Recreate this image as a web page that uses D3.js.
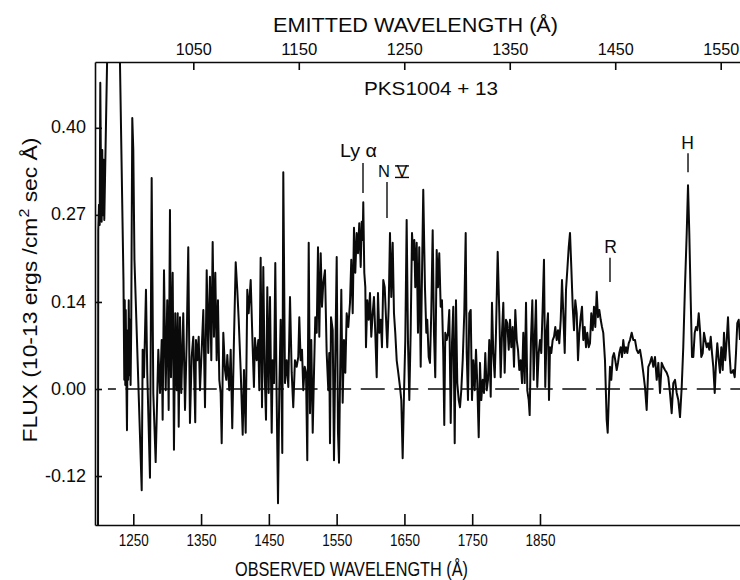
<!DOCTYPE html>
<html><head><meta charset="utf-8">
<script src="https://cdn.jsdelivr.net/npm/d3@7"></script>
<style>html,body{margin:0;padding:0;background:#fff;} svg{display:block;}</style>
</head><body>
<svg id="chart" width="740" height="580"></svg>
<script>
// ---------------- data ----------------
const wavelength = [
1197.9,1198.3,1199.4,1200.4,1201.3,1202.3,1203.3,1204.2,1205.3,1206.3,
1207.2,1211.9,1220.0,1229.8,1235.5,1236.7,1237.4,1238.2,1238.9,1239.6,
1240.7,1241.6,1242.4,1243.3,1244.2,1245.1,1246.0,1246.9,1248.5,1250.0,
1251.7,1262.4,1263.8,1265.8,1268.7,1270.6,1274.6,1277.1,1279.5,1283.0,
1286.9,1289.4,1291.9,1293.3,1295.3,1297.8,1300.1,1302.2,1304.1,1305.6,
1308.1,1310.0,1311.9,1314.0,1315.5,1317.0,1318.9,1320.8,1323.7,1326.3,
1328.8,1331.1,1333.6,1336.1,1338.5,1341.4,1342.5,1344.4,1346.5,1348.4,
1350.9,1353.3,1355.8,1358.3,1360.6,1363.1,1365.1,1367.1,1369.0,1371.0,
1373.0,1374.9,1376.9,1378.9,1380.4,1382.8,1385.3,1387.2,1388.7,1391.6,
1393.7,1396.0,1398.5,1401.1,1403.4,1405.5,1408.4,1411.4,1413.3,1415.8,
1418.2,1420.2,1423.2,1426.1,1428.0,1429.5,1432.0,1434.4,1435.9,1437.9,
1439.9,1441.8,1443.8,1445.8,1447.7,1449.7,1451.7,1454.2,1455.6,1457.6,
1459.5,1461.5,1463.5,1465.4,1467.4,1469.8,1471.3,1473.8,1476.3,1478.7,
1481.2,1483.7,1486.0,1488.5,1491.0,1493.4,1494.9,1496.9,1498.9,1500.8,
1502.9,1504.8,1506.7,1508.8,1510.7,1512.6,1514.7,1516.6,1518.5,1520.6,
1522.5,1524.4,1526.5,1528.4,1530.3,1532.8,1535.3,1537.7,1539.1,1540.2,
1541.7,1544.2,1546.1,1548.0,1550.1,1552.0,1553.5,1554.9,1556.9,1558.9,
1560.8,1562.8,1564.8,1567.2,1569.7,1571.6,1573.7,1575.6,1577.5,1579.6,
1581.5,1583.4,1585.5,1587.0,1588.4,1589.3,1590.8,1592.3,1593.3,1595.2,
1597.3,1599.2,1601.1,1603.2,1605.1,1607.0,1609.1,1611.0,1612.9,1615.0,
1616.9,1618.8,1620.9,1622.8,1624.7,1626.8,1628.7,1630.6,1632.7,1634.6,
1636.5,1638.6,1640.9,1643.5,1645.4,1647.4,1649.4,1651.3,1653.3,1655.3,
1657.2,1659.2,1661.2,1663.1,1664.6,1666.0,1668.1,1670.0,1671.9,1674.0,
1675.9,1677.8,1680.3,1682.3,1683.7,1685.8,1687.7,1689.6,1691.7,1693.6,
1695.5,1697.6,1699.5,1701.4,1703.5,1705.4,1707.3,1708.8,1710.3,1712.4,
1714.3,1716.2,1718.3,1720.2,1722.1,1724.2,1726.1,1728.0,1730.1,1732.0,
1733.9,1736.0,1738.3,1740.4,1741.9,1743.8,1745.7,1747.8,1749.7,1751.6,
1753.7,1755.6,1757.5,1759.6,1761.5,1763.4,1765.5,1767.4,1769.3,1771.4,
1773.3,1775.2,1777.3,1779.2,1781.1,1783.2,1785.1,1787.6,1790.0,1792.0,
1794.0,1795.9,1797.9,1799.9,1801.8,1803.9,1805.8,1807.7,1809.7,1811.7,
1813.6,1815.7,1817.6,1819.5,1821.5,1823.5,1825.4,1827.4,1829.4,1831.3,
1833.4,1834.8,1836.7,1838.7,1840.7,1842.6,1844.1,1846.0,1848.1,1850.0,
1851.9,1854.0,1855.9,1857.8,1859.9,1861.8,1863.3,1864.8,1866.7,1868.7,
1870.7,1872.6,1874.7,1876.6,1878.5,1880.6,1882.5,1884.4,1886.5,1888.4,
1890.3,1892.4,1894.3,1896.2,1898.3,1900.2,1902.1,1904.2,1906.1,1908.0,
1910.1,1912.0,1913.9,1916.0,1917.9,1919.8,1921.9,1923.8,1925.7,1927.8,
1929.7,1931.6,1933.7,1935.6,1937.5,1939.6,1941.5,1943.4,1945.9,1948.4,
1949.9,1951.8,1953.3,1955.2,1957.3,1959.2,1961.1,1963.2,1965.1,1967.0,
1969.1,1971.0,1972.9,1975.0,1976.9,1978.8,1980.9,1982.8,1985.3,1987.7,
1990.2,1992.7,1995.0,1997.6,2000.1,2002.4,2004.9,2007.4,2009.8,2012.3,
2014.8,2017.2,2019.7,2022.2,2024.6,2027.1,2029.6,2031.9,2034.4,2036.9,
2039.3,2041.8,2044.3,2046.7,2049.2,2051.7,2054.1,2056.6,2059.1,2061.4,
2063.9,2066.5,2068.4,2070.3,2072.4,2074.3,2076.2,2078.3,2080.2,2082.1,
2084.2,2086.1,2088.0,2090.1,2092.0,2093.9,2096.0,2097.9,2099.8,2101.9,
2103.8,2105.7,2107.8,2109.7,2111.6,2113.7,2115.6,2117.5,2119.6,2121.5,
2123.4,2125.5,2127.4,2129.3,2131.4,2133.3,2135.2,2137.3,2139.2,2141.1,
2143.2,2145.1
];
const flux = [
-0.300,0.243,0.282,0.251,0.469,0.335,0.256,0.366,0.266,0.351,
0.259,0.534,0.800,0.534,0.167,0.014,0.136,0.006,0.121,0.029,
-0.063,0.090,0.014,0.136,0.021,0.106,0.006,0.090,0.415,0.366,
0.198,-0.155,0.060,0.018,0.152,0.025,-0.136,0.323,-0.006,-0.112,
0.060,-0.006,0.075,-0.047,0.182,-0.002,0.136,-0.032,0.274,0.018,
0.178,-0.093,0.116,-0.002,0.116,-0.058,0.110,-0.006,0.116,-0.032,
0.075,0.217,-0.052,0.049,0.080,-0.051,0.075,0.044,0.080,-0.002,
0.060,0.121,-0.028,0.182,0.055,0.172,0.044,0.225,0.080,0.178,
0.044,0.136,0.014,-0.006,-0.083,0.086,0.029,0.014,0.052,-0.002,
0.060,-0.060,0.075,0.194,0.152,0.106,0.029,-0.070,0.029,-0.067,
0.152,0.116,0.167,0.064,0.003,0.078,0.044,0.075,-0.002,0.201,
-0.028,0.187,0.025,-0.047,0.156,-0.006,0.141,-0.067,0.044,0.009,
0.193,-0.012,-0.175,-0.002,0.106,-0.098,0.332,0.009,0.044,0.003,
0.141,0.025,-0.028,0.044,0.034,0.049,0.110,0.044,0.060,-0.002,
0.034,0.025,-0.109,0.224,-0.037,0.075,-0.067,0.025,0.110,0.086,
0.217,0.080,0.208,0.126,0.162,0.182,0.055,-0.002,0.055,-0.083,
0.110,0.090,-0.109,0.049,0.202,-0.067,-0.113,0.003,0.152,-0.021,
0.075,0.025,0.116,0.095,0.132,0.198,0.116,0.247,0.178,0.239,
0.208,0.254,0.187,0.256,0.228,0.286,0.178,0.156,0.064,0.136,
0.106,0.147,0.080,0.116,0.141,0.086,0.018,0.147,0.086,0.106,
0.064,0.167,0.156,0.110,0.064,0.126,0.239,0.141,0.224,0.116,
0.086,0.044,0.025,0.003,-0.017,-0.106,-0.006,0.075,0.259,0.070,
-0.017,0.086,0.239,0.198,0.228,0.156,0.224,0.086,0.217,0.034,
0.172,0.305,0.156,0.086,0.106,0.049,0.040,0.116,0.243,0.086,
0.018,0.213,0.156,0.208,0.126,0.136,0.055,-0.055,0.086,0.075,
0.086,0.121,-0.052,0.070,0.126,-0.083,0.136,0.009,-0.017,-0.028,
-0.002,0.044,0.116,0.239,0.055,-0.017,0.116,0.121,-0.017,0.044,
-0.002,0.060,0.009,-0.074,0.040,-0.017,0.014,-0.006,0.055,-0.002,
0.014,0.075,-0.012,0.132,0.055,0.018,0.086,0.210,0.116,0.018,
0.086,0.132,0.025,0.106,0.101,0.060,0.106,0.064,0.095,0.034,
0.121,0.075,0.060,0.029,0.044,0.009,0.086,0.009,0.132,-0.002,
-0.017,-0.040,0.075,0.136,0.014,0.086,0.136,0.003,0.055,0.075,
0.055,0.126,0.198,0.003,0.090,0.116,-0.017,0.064,0.055,0.075,
0.080,0.095,0.075,0.090,0.070,0.106,0.167,0.116,0.055,0.152,
0.182,0.217,0.239,0.187,0.126,0.090,0.136,0.116,0.044,0.086,
0.110,0.126,0.075,0.095,0.064,0.086,0.064,0.070,0.116,0.090,
0.126,0.095,0.149,0.110,0.121,0.106,0.095,0.086,0.044,-0.047,
-0.067,-0.006,0.034,0.014,0.049,0.055,0.044,0.029,0.040,0.055,
0.064,0.049,0.075,0.055,0.064,0.055,0.070,0.075,0.086,0.075,
0.075,0.060,0.055,0.060,0.044,0.025,0.003,-0.032,0.034,0.040,
0.049,0.034,0.049,0.014,0.040,-0.006,0.040,0.034,0.029,0.025,
0.018,-0.006,-0.037,0.009,0.014,-0.006,-0.017,-0.043,0.003,0.064,
0.156,0.239,0.312,0.239,0.136,0.049,0.049,0.086,0.095,0.090,
0.116,0.090,0.049,0.055,0.086,0.075,0.064,0.070,0.060,0.080,
0.055,0.034,-0.006,0.040,0.070,0.044,0.025,0.064,0.029,0.086,
0.044,0.075,0.110,0.060,0.025,0.025,0.029,0.018,0.055,0.101,
0.106,0.075
];
const observedTicks = [1250,1350,1450,1550,1650,1750,1850];
const emittedTicks = [1050,1150,1250,1350,1450,1550];
const fluxTicks = [0.40, 0.2667, 0.1333, 0.00, -0.1333];
const fluxTickLabels = ["0.40","0.27","0.14","0.00","-0.12"];
const featureNames = ["Ly α","N V","R","H"];
const featureWavelengths = [1588.9,1624.3,1953.3,2068.4];

// ---------------- layout / style ----------------
const FONT = "'Liberation Sans', Arial, sans-serif";
const INK = "#0a0a0a";
const m = {left:95, top:62, right:740, bottom:525};
const svg = d3.select("#chart");
const x = d3.scaleLinear().domain([1193.5,2145.1]).range([m.left,m.right]);
const xTop = d3.scaleLinear().domain([956.8,1568.3]).range([m.left,m.right]);
const y = d3.scaleLinear().domain([-0.2083,0.5008]).range([m.bottom,m.top]);

svg.append("defs").append("clipPath").attr("id","plotClip")
  .append("rect").attr("x",m.left).attr("y",m.top)
  .attr("width",m.right-m.left+2).attr("height",m.bottom-m.top);

// zero line (dashed)
svg.append("line")
  .attr("x1",x(1212.6)).attr("x2",x(2145.1))
  .attr("y1",y(0)).attr("y2",y(0))
  .attr("stroke",INK).attr("stroke-width",1.6)
  .attr("stroke-dasharray","24 9.6").attr("stroke-dashoffset",16);

// spectrum
const pts = wavelength.map((w,i)=>[w,flux[i]]);
svg.append("path")
  .attr("clip-path","url(#plotClip)")
  .attr("d", d3.line().x(d=>x(d[0])).y(d=>y(d[1]))(pts))
  .attr("fill","none").attr("stroke",INK)
  .attr("stroke-width",2).attr("stroke-linejoin","round");

// axes
function styleAxis(g, size){
  g.attr("font-family",FONT).attr("font-size",size);
  g.selectAll("path,line").attr("stroke",INK).attr("stroke-width",1.6);
  g.selectAll("text").attr("fill",INK).attr("font-size",size);
}
const gB = svg.append("g").attr("transform",`translate(0,${m.bottom})`)
  .call(d3.axisBottom(x).tickValues(observedTicks).tickSize(-11).tickSizeOuter(0).tickFormat(d3.format("d")));
styleAxis(gB, 17);
gB.selectAll("text").attr("y",21).attr("dy",0)
  .attr("textLength",30).attr("lengthAdjust","spacingAndGlyphs");

const gT = svg.append("g").attr("transform",`translate(0,${m.top})`)
  .call(d3.axisTop(xTop).tickValues(emittedTicks).tickSize(-8).tickSizeOuter(0).tickFormat(d3.format("d")));
styleAxis(gT, 17);
gT.selectAll("text").attr("y",-7).attr("dy",0)
  .attr("textLength",36).attr("lengthAdjust","spacingAndGlyphs");

const gL = svg.append("g").attr("transform",`translate(${m.left},0)`)
  .call(d3.axisLeft(y).tickValues(fluxTicks).tickSize(-7).tickSizeOuter(0)
    .tickFormat((d,i)=>fluxTickLabels[i]));
styleAxis(gL, 18);
gL.selectAll("text").attr("x",-9).attr("dy","0.28em");

// titles
svg.append("text").attr("x",415.5).attr("y",32).attr("text-anchor","middle")
  .attr("font-family",FONT).attr("font-size",21).attr("fill",INK)
  .attr("textLength",285).attr("lengthAdjust","spacingAndGlyphs")
  .text("EMITTED WAVELENGTH (Å)");
svg.append("text").attr("x",351.5).attr("y",576).attr("text-anchor","middle")
  .attr("font-family",FONT).attr("font-size",21).attr("fill",INK)
  .attr("textLength",233).attr("lengthAdjust","spacingAndGlyphs")
  .text("OBSERVED WAVELENGTH (Å)");
const yl = svg.append("text").attr("transform","translate(37,290) rotate(-90)")
  .attr("text-anchor","middle").attr("font-family",FONT).attr("font-size",20).attr("fill",INK)
  .attr("textLength",305).attr("lengthAdjust","spacingAndGlyphs");
yl.append("tspan").text("FLUX (10-13 ergs /cm");
yl.append("tspan").attr("dy",-8).attr("font-size",14).text("2");
yl.append("tspan").attr("dy",8).text(" sec Å)");

svg.append("text").attr("x",431).attr("y",95).attr("text-anchor","middle")
  .attr("font-family",FONT).attr("font-size",19).attr("fill",INK)
  .attr("textLength",134).attr("lengthAdjust","spacingAndGlyphs")
  .text("PKS1004 + 13");

// line identifications (marker extents in flux units, label offsets in px)
const markLayout = [
  {top:0.346, bot:0.300, labelFlux:0.355, dx:-4.5},
  {top:0.317, bot:0.262, labelFlux:0.324, dx:0},
  {top:0.201, bot:0.164, labelFlux:0.209, dx:0.5},
  {top:0.361, bot:0.332, labelFlux:0.368, dx:-0.5}
];
featureNames.forEach((name,i)=>{
  const L = markLayout[i], fx = x(featureWavelengths[i]);
  svg.append("line").attr("x1",fx).attr("x2",fx)
    .attr("y1",y(L.top)).attr("y2",y(L.bot))
    .attr("stroke",INK).attr("stroke-width",1.4);
  if (name === "N V") {
    svg.append("text").attr("x",fx-3).attr("y",y(L.labelFlux)).attr("text-anchor","middle")
      .attr("font-family",FONT).attr("font-size",16.5).attr("fill",INK).text("N");
    svg.append("text").attr("x",fx+15).attr("y",y(L.labelFlux)).attr("text-anchor","middle")
      .attr("font-family",FONT).attr("font-size",16.5).attr("fill",INK).text("V");
    [y(L.labelFlux)-11.5, y(L.labelFlux)].forEach(yy=>{
      svg.append("line").attr("x1",fx+8).attr("x2",fx+22).attr("y1",yy).attr("y2",yy)
        .attr("stroke",INK).attr("stroke-width",1.4);
    });
  } else {
    const t = svg.append("text").attr("x",fx+L.dx).attr("y",y(L.labelFlux)).attr("text-anchor","middle")
      .attr("font-family",FONT).attr("font-size",17.5).attr("fill",INK).text(name);
    if (i===0) t.attr("textLength",37).attr("lengthAdjust","spacingAndGlyphs");
  }
});
</script>
</body></html>
